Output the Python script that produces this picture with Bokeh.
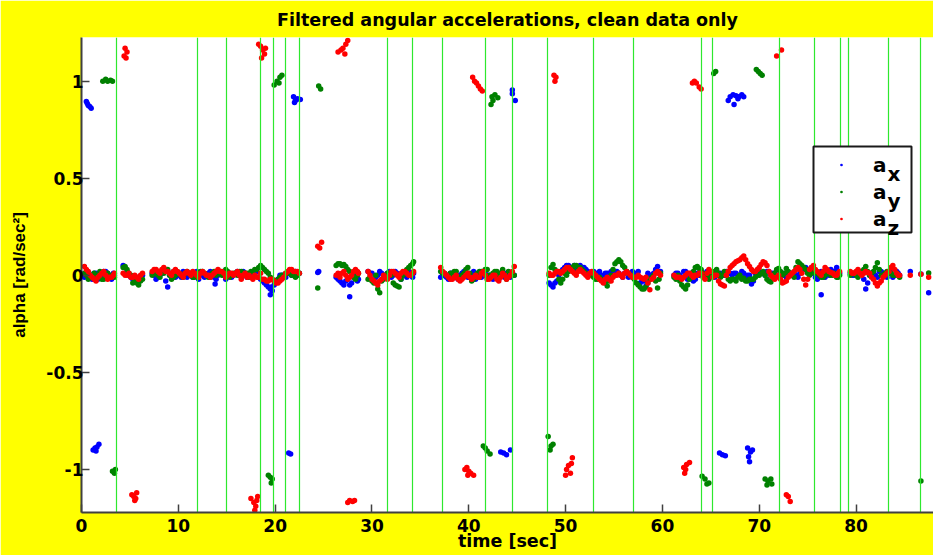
from bokeh.plotting import figure
from bokeh.models import (Range1d, Legend, LegendItem, Label, CustomJSTickFormatter,
                          FixedTicker, ColumnDataSource, BoxAnnotation)
from bokeh.embed import file_html
from bokeh.resources import INLINE

# ---------------- data ----------------
# sample times of the near-zero band (sec), first set
t_band = [
    0.3, 0.7, 1.1, 1.5, 1.9, 2.3, 2.7, 3.1, 3.4,
    4.3, 4.7, 5.1, 5.5, 5.9, 6.3,
    7.3, 7.7, 8.1, 8.5, 8.9, 9.3, 9.7, 10.1, 10.5, 10.9, 11.3, 11.7, 12.1, 12.5, 12.9, 13.3, 13.7, 14.1, 14.5, 14.9,
    15.3, 15.7, 16.1, 16.5, 16.9, 17.3, 17.7, 18.1, 18.5, 18.9, 19.3, 19.7, 20.1, 20.5, 20.9, 21.3, 21.7, 22.1, 22.5,
    26.3, 26.7, 27.1, 27.5, 27.9, 28.3, 28.6,
    29.6, 30.0, 30.4, 30.8, 31.2, 31.6, 32.0, 32.4, 32.8, 33.2, 33.6, 34.0, 34.3,
    37.1, 37.5, 37.9, 38.3, 38.7, 39.1, 39.5, 39.9, 40.3, 40.7, 41.1, 41.5, 41.9, 42.3, 42.7, 43.1, 43.5, 43.9, 44.3, 44.7,
    48.3, 48.7, 49.1, 49.5, 49.9, 50.3, 50.7, 51.1, 51.5, 51.9, 52.3, 52.7, 53.1, 53.5, 53.9,
    54.3, 54.7, 55.1, 55.5, 55.9, 56.3, 56.7, 57.1, 57.5, 57.9, 58.3, 58.7, 59.1, 59.5, 59.8,
    61.2, 61.6, 62.0, 62.4, 62.8, 63.2, 63.6, 64.0, 64.4, 64.8, 65.2, 65.6, 66.0, 66.4, 66.8,
    67.2, 67.6, 68.0, 68.4, 68.8, 69.2, 69.6, 70.0, 70.4, 70.8, 71.2, 71.6, 72.0, 72.4, 72.8,
    73.2, 73.6, 74.0, 74.4, 74.8, 75.2, 75.6, 76.0, 76.4, 76.8, 77.2, 77.6, 78.0, 78.3,
    79.4, 79.8, 80.2, 80.6, 81.0, 81.4, 81.8, 82.2, 82.6, 83.0, 83.4, 83.8, 84.2, 84.5,
]

ax_band = [
    -0.01, 0.00, -0.02, 0.01, -0.01, 0.02, 0.01, -0.02, 0.00,
    0.05, 0.02, -0.01, -0.015, -0.02, 0.00,
    0.01, -0.02, 0.00, 0.02, -0.06, 0.01, -0.01, 0.00, 0.02, -0.01, 0.01, 0.00, -0.02, 0.01, 0.00, 0.02, -0.01, 0.00, 0.01, -0.02,
    0.01, 0.00, 0.02, -0.01, 0.01, 0.00, -0.01, 0.02, -0.02, -0.04, -0.06, -0.08, -0.03, 0.00, -0.01, 0.01, 0.00, 0.02, 0.01,
    -0.01, -0.03, -0.05, -0.02, -0.04, 0.00, -0.02,
    0.02, 0.01, -0.01, 0.02, 0.00, 0.01, -0.01, 0.02, 0.00, 0.01, -0.01, 0.00, 0.01,
    -0.01, 0.00, -0.02, 0.01, -0.01, 0.00, 0.02, -0.01, 0.00, -0.02, 0.01, 0.00, -0.01, 0.00, 0.01, -0.02, 0.00, 0.01, -0.01, 0.00,
    -0.04, -0.06, -0.03, 0.02, 0.04, 0.05, 0.04, 0.03, 0.05, 0.04, 0.02, 0.01, 0.00, 0.02, -0.01,
    0.01, 0.02, 0.00, 0.01, -0.01, 0.02, 0.00, 0.01, 0.02, -0.03, -0.055, 0.00, 0.01, 0.045, 0.02,
    0.00, 0.01, -0.01, 0.02, 0.00, -0.03, 0.01, 0.02, -0.01, 0.00, 0.01, 0.00, 0.01, 0.00, 0.01,
    0.00, 0.01, 0.00, 0.01, 0.00, -0.045, 0.01, 0.02, 0.01, 0.02, 0.00, 0.01, 0.00, 0.01, -0.01,
    0.00, 0.01, -0.01, 0.02, 0.04, 0.03, 0.01, -0.02, 0.02, -0.01, 0.00, 0.02, 0.04, 0.01,
    0.01, 0.00, 0.02, 0.01, -0.07, 0.00, 0.01, -0.01, 0.02, 0.00, 0.01, -0.01, 0.02, 0.00,
]

ay_band = [
    0.01, -0.02, 0.00, -0.01, 0.02, -0.02, 0.01, 0.00, -0.01,
    0.04, 0.03, 0.00, -0.03, -0.05, -0.02,
    0.00, 0.02, -0.01, 0.01, 0.03, -0.02, 0.00, 0.01, -0.01, 0.02, 0.00, -0.01, 0.01, 0.02, 0.00, -0.01, 0.02, 0.01, 0.00, 0.03,
    -0.01, 0.01, 0.00, 0.02, 0.01, -0.01, 0.02, 0.03, 0.05, 0.03, 0.01, -0.02, -0.03, -0.01, 0.00, 0.01, 0.00, -0.01, 0.01,
    0.05, 0.06, 0.055, 0.03, 0.00, -0.02, 0.01,
    -0.02, -0.03, 0.00, -0.09, -0.02, 0.01, 0.00, -0.05, -0.06, 0.00, 0.03, 0.05, 0.07,
    0.02, 0.01, -0.01, 0.00, 0.02, -0.02, 0.01, 0.04, -0.03, 0.00, 0.02, 0.01, 0.03, -0.01, 0.02, 0.00, 0.03, -0.02, 0.01, 0.00,
    0.00, 0.055, 0.02, -0.04, 0.01, 0.02, 0.03, 0.05, 0.04, 0.02, 0.00, 0.01, -0.02, -0.01, -0.03,
    -0.055, 0.00, 0.06, 0.08, 0.05, 0.02, 0.00, -0.02, -0.05, -0.07, -0.06, -0.02, 0.00, -0.065, 0.01,
    -0.01, 0.00, -0.05, -0.07, -0.02, 0.02, 0.045, 0.03, 0.00, -0.02, 0.01, 0.03, -0.01, 0.02, -0.02,
    -0.02, -0.03, 0.00, -0.015, -0.03, -0.02, -0.01, 0.00, 0.02, -0.02, -0.035, 0.01, 0.035, 0.00, 0.035,
    0.01, -0.01, 0.07, 0.05, 0.03, 0.00, 0.02, 0.01, -0.01, 0.00, 0.01, 0.00, -0.01, 0.00,
    0.00, 0.01, -0.01, 0.02, 0.045, 0.00, 0.02, 0.065, 0.00, 0.01, 0.02, 0.00, 0.01, -0.01,
]

az_band = [
    0.045, 0.02, -0.01, -0.03, 0.00, 0.02, -0.02, -0.01, 0.01,
    0.01, 0.00, -0.01, 0.00, -0.02, 0.01,
    0.02, 0.03, 0.01, 0.04, 0.02, 0.00, 0.03, 0.01, -0.01, 0.02, 0.00, 0.01, -0.01, 0.02, 0.00, -0.01, 0.01, 0.03, 0.02, -0.01,
    0.01, 0.00, 0.02, -0.02, 0.01, 0.00, -0.02, -0.01, 0.01, -0.02, -0.03, -0.02, -0.04, -0.03, -0.01, 0.02, 0.03, 0.02, 0.01,
    0.00, -0.01, 0.02, -0.02, 0.00, 0.03, 0.01,
    0.02, -0.02, -0.04, -0.03, 0.00, -0.02, 0.02, 0.01, -0.01, 0.02, 0.01, 0.00, 0.02,
    0.04, 0.01, -0.01, -0.02, 0.00, -0.03, -0.01, 0.01, -0.02, 0.00, -0.01, 0.02, -0.02, -0.01, 0.00, -0.03, 0.01, -0.02, 0.00, 0.045,
    0.01, 0.00, 0.02, 0.01, 0.03, 0.04, 0.02, 0.00, 0.03, 0.01, -0.01, 0.02, 0.00, -0.02, -0.04,
    -0.01, -0.03, 0.00, 0.01, -0.01, 0.02, 0.00, -0.01, 0.00, -0.015, -0.01, -0.075, -0.01, 0.02, 0.00,
    0.00, -0.01, -0.02, 0.00, 0.01, -0.01, 0.00, 0.01, -0.02, 0.03, -0.01, 0.00, -0.045, -0.055, 0.02,
    0.05, 0.07, 0.08, 0.10, 0.06, 0.03, 0.02, 0.04, 0.07, 0.05, 0.00, -0.02, 0.00, -0.04, -0.03,
    0.00, 0.02, 0.04, 0.01, -0.05, 0.03, 0.05, 0.02, 0.00, 0.04, 0.02, 0.01, 0.00, 0.02,
    0.02, 0.01, 0.03, 0.00, 0.02, 0.01, -0.02, -0.055, -0.03, 0.00, 0.02, 0.05, 0.01, 0.00,
]

# second set of band samples (in between the first set)
t_band2 = [
    0.5, 0.9, 1.3, 1.7, 2.1, 2.5, 2.9, 3.3,
    4.5, 4.9, 5.3, 5.7, 6.1,
    7.5, 7.9, 8.3, 8.7, 9.1, 9.5, 9.9, 10.3, 10.7, 11.1, 11.5, 11.9, 12.3, 12.7, 13.1, 13.5, 13.9, 14.3, 14.7, 15.1,
    15.5, 15.9, 16.3, 16.7, 17.1, 17.5, 17.9, 18.3, 18.7, 19.1, 19.5, 19.9, 20.3, 20.7, 21.1, 21.5, 21.9, 22.3,
    26.5, 26.9, 27.3, 27.7, 28.1, 28.5,
    29.8, 30.2, 30.6, 31.0, 31.4, 31.8, 32.2, 32.6, 33.0, 33.4, 33.8, 34.2,
    37.3, 37.7, 38.1, 38.5, 38.9, 39.3, 39.7, 40.1, 40.5, 40.9, 41.3, 41.7, 42.1, 42.5, 42.9, 43.3, 43.7, 44.1, 44.5,
    48.5, 48.9, 49.3, 49.7, 50.1, 50.5, 50.9, 51.3, 51.7, 52.1, 52.5, 52.9, 53.3, 53.7, 54.1,
    54.5, 54.9, 55.3, 55.7, 56.1, 56.5, 56.9, 57.3, 57.7, 58.1, 58.5, 58.9, 59.3, 59.65,
    61.4, 61.8, 62.2, 62.6, 63.0, 63.4, 63.8, 64.2, 64.6, 65.0, 65.4, 65.8, 66.2, 66.6, 67.0,
    67.4, 67.8, 68.2, 68.6, 69.0, 69.4, 69.8, 70.2, 70.6, 71.0, 71.4, 71.8, 72.2, 72.6, 73.0,
    73.4, 73.8, 74.2, 74.6, 75.0, 75.4, 75.8, 76.2, 76.6, 77.0, 77.4, 77.8, 78.15,
    79.6, 80.0, 80.4, 80.8, 81.2, 81.6, 82.0, 82.4, 82.8, 83.2, 83.6, 84.0, 84.35,
]

ax_band2 = [
    0.00, -0.01, 0.01, -0.02, 0.00, 0.02, -0.01, 0.01,
    0.04, 0.00, -0.02, -0.01, -0.01,
    0.00, -0.01, 0.01, -0.03, 0.00, 0.02, 0.00, -0.01, 0.01, 0.00, -0.01, 0.02, 0.00, -0.01, 0.01, 0.00, -0.02, 0.01, 0.00, 0.01,
    -0.01, 0.01, 0.00, 0.02, -0.01, 0.01, 0.00, -0.01, -0.03, -0.05, -0.07, -0.05, -0.02, 0.00, -0.01, 0.01, 0.02, 0.00,
    -0.02, -0.04, -0.03, -0.05, -0.01, -0.03,
    0.01, -0.02, 0.00, 0.01, -0.01, 0.02, 0.00, 0.01, -0.02, 0.00, 0.02, -0.01,
    0.00, -0.01, 0.01, 0.00, -0.02, 0.01, 0.00, -0.01, 0.02, 0.00, -0.01, 0.01, 0.00, -0.02, 0.00, 0.01, -0.01, 0.00, 0.01,
    -0.05, -0.04, 0.00, 0.03, 0.05, 0.04, 0.05, 0.03, 0.04, 0.03, 0.01, 0.02, 0.01, 0.00, 0.01,
    0.00, 0.01, 0.02, 0.00, 0.01, -0.01, 0.02, 0.00, -0.04, -0.03, 0.01, 0.00, 0.03, 0.01,
    0.01, 0.00, 0.02, -0.02, 0.01, -0.02, 0.00, 0.01, 0.02, 0.00, -0.01, 0.01, 0.00, 0.02, 0.01,
    0.01, 0.00, 0.02, -0.01, 0.00, -0.03, 0.02, 0.01, 0.00, 0.02, 0.01, 0.00, 0.01, 0.00, 0.00,
    0.01, 0.00, 0.01, 0.03, 0.02, 0.04, -0.01, 0.01, 0.00, 0.01, 0.03, 0.02, 0.00,
    0.00, 0.01, 0.02, -0.02, -0.04, 0.01, 0.00, 0.02, 0.01, -0.01, 0.02, 0.00, 0.01,
]

ay_band2 = [
    0.00, -0.01, 0.01, 0.00, -0.02, 0.01, -0.01, 0.00,
    0.045, 0.01, -0.04, -0.04, -0.03,
    0.01, 0.00, 0.02, 0.02, 0.00, -0.01, 0.02, 0.00, 0.01, 0.01, -0.01, 0.00, 0.02, 0.01, -0.01, 0.01, 0.00, 0.02, 0.01, 0.02,
    0.00, 0.01, 0.02, 0.00, 0.01, 0.02, 0.03, 0.04, 0.04, 0.02, -0.01, -0.03, -0.02, 0.00, 0.01, 0.02, 0.01, 0.00,
    0.06, 0.05, 0.045, 0.02, -0.01, 0.00,
    -0.01, -0.04, -0.07, -0.03, 0.00, 0.01, -0.04, -0.055, -0.02, 0.02, 0.04, 0.06,
    0.01, 0.00, 0.01, 0.02, -0.01, 0.00, 0.03, 0.01, -0.02, 0.01, 0.02, 0.03, 0.00, 0.01, 0.02, 0.01, 0.00, 0.02, 0.01,
    0.04, 0.03, -0.02, -0.02, 0.00, 0.04, 0.05, 0.03, 0.03, 0.01, 0.00, -0.01, -0.02, -0.02, -0.04,
    -0.03, 0.03, 0.07, 0.07, 0.04, 0.01, -0.01, -0.04, -0.06, -0.07, -0.04, -0.01, -0.03, -0.02,
    -0.02, -0.03, -0.06, -0.05, 0.00, 0.04, 0.035, 0.01, -0.01, 0.00, 0.02, 0.01, 0.00, 0.00, -0.03,
    -0.02, -0.01, -0.02, -0.03, -0.02, -0.02, 0.00, 0.01, 0.00, -0.03, -0.01, 0.03, 0.02, 0.01, 0.02,
    0.00, 0.04, 0.06, 0.04, 0.01, 0.01, 0.02, 0.00, -0.01, 0.01, 0.00, 0.01, -0.01,
    0.01, 0.00, 0.01, 0.03, 0.02, 0.01, 0.04, 0.03, 0.00, 0.02, 0.01, 0.00, 0.00,
]

az_band2 = [
    0.03, 0.00, -0.02, -0.01, 0.01, 0.00, -0.01, 0.00,
    0.00, 0.01, -0.01, -0.01, 0.00,
    0.03, 0.02, 0.03, 0.02, 0.01, 0.02, 0.02, 0.00, 0.01, 0.01, 0.02, 0.00, 0.01, 0.01, 0.00, 0.00, 0.02, 0.02, 0.01, 0.00,
    0.01, 0.01, 0.00, 0.00, -0.01, -0.01, 0.00, -0.01, -0.02, -0.03, -0.02, -0.03, -0.04, -0.02, 0.01, 0.03, 0.02, 0.02,
    0.01, 0.01, 0.00, -0.01, 0.02, 0.02,
    0.00, -0.03, -0.05, -0.02, -0.01, 0.00, 0.02, 0.00, 0.01, 0.02, 0.00, 0.01,
    0.02, 0.00, -0.02, -0.01, -0.02, -0.02, 0.00, -0.01, -0.01, -0.01, 0.01, 0.00, -0.02, 0.00, -0.02, -0.01, 0.00, -0.01, 0.02,
    0.00, 0.01, 0.02, 0.02, 0.04, 0.03, 0.01, 0.02, 0.02, 0.00, 0.01, 0.01, -0.01, -0.03, -0.02,
    -0.02, -0.01, 0.00, 0.00, 0.01, 0.01, -0.01, -0.01, -0.01, -0.02, -0.04, -0.02, 0.01, 0.01,
    -0.01, -0.01, -0.01, 0.01, 0.00, 0.00, 0.01, -0.01, 0.01, 0.02, 0.00, -0.03, -0.05, 0.00, 0.04,
    0.06, 0.075, 0.09, 0.08, 0.045, 0.02, 0.03, 0.055, 0.065, 0.02, -0.01, -0.01, -0.02, -0.035, -0.01,
    0.01, 0.03, 0.03, -0.02, -0.02, 0.04, 0.03, 0.01, 0.02, 0.03, 0.015, 0.00, 0.01,
    0.01, 0.02, 0.01, 0.01, 0.015, -0.01, -0.04, -0.04, -0.01, 0.01, 0.04, 0.03, 0.00,
]

# isolated samples (time, value) of each series
ax_extra = [
    (0.5, 0.895), (0.6, 0.885), (0.7, 0.875), (0.85, 0.87), (1.0, 0.86),
    (21.9, 0.92), (22.0, 0.89), (22.1, 0.90), (22.3, 0.91), (22.6, 0.905),
    (44.5, 0.955), (44.5, 0.935), (44.8, 0.90),
    (66.8, 0.90), (67.0, 0.92), (67.3, 0.93), (67.4, 0.88), (67.6, 0.925), (67.8, 0.91),
    (67.9, 0.92), (68.2, 0.93), (68.4, 0.92),
    (1.2, -0.90), (1.4, -0.89), (1.5, -0.905), (1.6, -0.885), (1.8, -0.87),
    (21.4, -0.915), (21.6, -0.92),
    (43.3, -0.91), (43.6, -0.915), (43.9, -0.925), (44.3, -0.90),
    (65.9, -0.915), (66.2, -0.925), (66.5, -0.93),
    (68.8, -0.89), (68.9, -0.935), (69.0, -0.96), (69.1, -0.91), (69.3, -0.90),
    (13.8, -0.045), (19.5, -0.10), (19.6, -0.06), (24.4, 0.015), (24.5, 0.02),
    (27.7, -0.11), (76.4, -0.10), (85.6, 0.02), (86.7, 0.007), (87.5, -0.09),
]

ay_extra = [
    (2.2, 1.00), (2.5, 1.01), (2.7, 1.00), (3.0, 1.005), (3.2, 1.00),
    (19.9, 0.98), (20.2, 1.00), (20.4, 0.99), (20.5, 1.02), (20.7, 1.03),
    (24.5, 0.975), (24.7, 0.96),
    (42.3, 0.88), (42.4, 0.92), (42.5, 0.90), (42.7, 0.93), (43.0, 0.915),
    (65.3, 1.04), (65.5, 1.05),
    (69.7, 1.06), (69.9, 1.05), (70.1, 1.04), (70.3, 1.03),
    (3.2, -1.01), (3.4, -1.02), (3.5, -1.00),
    (19.3, -1.03), (19.5, -1.04), (19.6, -1.07), (19.7, -1.05),
    (41.5, -0.88), (41.7, -0.89), (41.9, -0.905), (42.2, -0.92),
    (48.2, -0.83), (48.4, -0.90), (48.5, -0.88), (48.7, -0.87),
    (64.1, -1.035), (64.4, -1.05), (64.6, -1.075), (64.8, -1.07),
    (70.6, -1.05), (70.8, -1.08), (70.9, -1.06), (71.2, -1.05), (71.3, -1.075),
    (86.7, -1.06), (24.4, -0.065), (87.5, 0.012),
]

az_extra = [
    (4.4, 1.13), (4.5, 1.17), (4.6, 1.12), (4.7, 1.15),
    (18.3, 1.19), (18.5, 1.18), (18.6, 1.12), (18.7, 1.16), (18.9, 1.14), (19.0, 1.17),
    (24.4, 0.15), (24.6, 0.14), (24.8, 0.17),
    (26.5, 1.15), (26.8, 1.16), (27.0, 1.17), (27.2, 1.14), (27.3, 1.19), (27.5, 1.21),
    (40.4, 1.02), (40.6, 1.00), (40.8, 0.99), (41.0, 0.975), (41.2, 0.96), (41.4, 0.95),
    (48.8, 1.03), (48.9, 1.00), (49.0, 1.02),
    (63.1, 0.99), (63.3, 1.00), (63.5, 0.99), (63.8, 0.97), (64.0, 0.96),
    (71.8, 1.13), (72.3, 1.16),
    (5.2, -1.13), (5.4, -1.14), (5.5, -1.16), (5.6, -1.15), (5.7, -1.12),
    (17.5, -1.15), (17.8, -1.17), (17.9, -1.21), (18.0, -1.19), (18.1, -1.16), (18.2, -1.14),
    (27.5, -1.17), (27.7, -1.16), (28.0, -1.165), (28.2, -1.16),
    (39.6, -1.00), (39.8, -0.99), (39.9, -1.03), (40.0, -1.01), (40.2, -1.02), (40.5, -1.03),
    (50.0, -1.03), (50.1, -1.00), (50.3, -0.98), (50.5, -1.02), (50.6, -0.97), (50.7, -0.94),
    (62.2, -0.99), (62.3, -1.02), (62.4, -1.00), (62.5, -0.975), (62.8, -0.965),
    (72.8, -1.13), (73.0, -1.14), (73.2, -1.165),
    (85.6, 0.00), (86.7, 0.005), (87.5, -0.01),
]

# times of the marked events (vertical green lines)
event_times = [3.57, 11.99, 14.98, 18.5, 19.85, 21.05, 22.5, 31.6, 34.2, 37.3, 41.7, 44.5,
               48.1, 52.9, 57.0, 64.0, 65.15, 72.06, 75.7, 78.4, 79.2, 83.35, 86.7]

x_ticks = [0, 10, 20, 30, 40, 50, 60, 70, 80]
y_ticks = [-1, -0.5, 0, 0.5, 1]
series_names = ["x", "y", "z"]
series_colors = ["#0000ff", "#008000", "#ff0000"]

assert len(t_band) == len(ax_band) == len(ay_band) == len(az_band)
assert len(t_band2) == len(ax_band2) == len(ay_band2) == len(az_band2)

# ---------------- figure ----------------
FONT = "DejaVu Sans"
p = figure(width=933, height=555, output_backend="svg", toolbar_location=None,
           x_range=Range1d(0, 88), y_range=Range1d(-1.222, 1.225),
           min_border_left=81, min_border_right=0, min_border_top=36, min_border_bottom=43,
           background_fill_color="white", border_fill_color="#ffff00",
           title="Filtered angular accelerations, clean data only")
p.outline_line_color = None
p.grid.visible = False

p.title.align = "center"
p.title.text_font = FONT
p.title.text_font_size = "17.5px"
p.title.text_font_style = "bold"
p.title.text_color = "black"
p.title.standoff = 15

for ax in (p.xaxis[0], p.yaxis[0]):
    ax.axis_line_color = "#404040"
    ax.axis_line_width = 2
    ax.major_tick_line_color = "#404040"
    ax.major_tick_line_width = 1.5
    ax.major_tick_in = 8
    ax.major_tick_out = 0
    ax.minor_tick_line_color = None
    ax.major_label_text_font = FONT
    ax.major_label_text_font_size = "17px"
    ax.major_label_text_font_style = "bold"
    ax.major_label_text_color = "black"
    ax.axis_label_text_font_size = "17.5px"
    ax.axis_label_text_font_style = "bold"
    ax.axis_label_text_color = "black"
    ax.formatter = CustomJSTickFormatter(code="return String(Math.round(tick*10)/10)")

p.xaxis.ticker = FixedTicker(ticks=x_ticks)
p.yaxis.ticker = FixedTicker(ticks=y_ticks)
p.xaxis.axis_label = "time [sec]"
p.yaxis.axis_label = "alpha [rad/sec\u00b2]"
p.xaxis.axis_label_text_font = FONT
p.yaxis.axis_label_text_font = "Liberation Sans"
p.yaxis.axis_label_text_font_size = "17px"
p.xaxis.major_label_standoff = 6
p.yaxis.major_label_standoff = -2
p.xaxis.axis_label_standoff = -4
p.yaxis.axis_label_standoff = 14

bands = (ax_band, ay_band, az_band)
bands2 = (ax_band2, ay_band2, az_band2)
extras = (ax_extra, ay_extra, az_extra)
legend_renderers = []
for band, band2, extra, color in zip(bands, bands2, extras, series_colors):
    xs = list(t_band) + list(t_band2) + [e[0] for e in extra]
    ys = list(band) + list(band2) + [e[1] for e in extra]
    src = ColumnDataSource(data=dict(t=xs, v=ys))
    p.scatter("t", "v", source=src, size=5.5, marker="circle",
              fill_color=color, line_color=None)
    # tiny copy of the first sample, used only for the (small) legend dot
    legend_renderers.append(p.scatter(x=xs[:1], y=ys[:1], size=3, marker="dot",
                                      line_color=color, fill_color=color))

p.vspan(x=event_times, line_color="#2ee82e", line_width=1.2)

# legend: white box, transparent bokeh legend (dots + "a"), subscripts as labels
FRAME_LEFT, FRAME_BOTTOM = 81, 512
LEG_LEFT, LEG_RIGHT, LEG_TOP, LEG_BOTTOM = 813, 911, 146, 232
PAD = 2
ROW_H = (LEG_BOTTOM - LEG_TOP - 2 * PAD) / 3
p.add_layout(BoxAnnotation(left=LEG_LEFT - FRAME_LEFT, right=LEG_RIGHT - FRAME_LEFT,
                           top=FRAME_BOTTOM - LEG_TOP, bottom=FRAME_BOTTOM - LEG_BOTTOM,
                           left_units="screen", right_units="screen",
                           top_units="screen", bottom_units="screen",
                           fill_color="white", fill_alpha=1.0,
                           line_color="#1a1a1a", line_width=2, line_alpha=1.0))
legend = Legend(
    items=[LegendItem(label="a", renderers=[r]) for r in legend_renderers],
    location=(LEG_LEFT - FRAME_LEFT, FRAME_BOTTOM - LEG_BOTTOM),
    padding=PAD, spacing=0, margin=0,
    glyph_height=int(ROW_H), glyph_width=56, label_height=int(ROW_H), label_width=30,
    label_standoff=4,
    border_line_color=None, background_fill_alpha=0.0,
    label_text_font=FONT, label_text_font_size="20px", label_text_font_style="bold",
    label_text_color="black",
)
p.add_layout(legend)

for i, name in enumerate(series_names):
    row_center = LEG_TOP + PAD + ROW_H * (i + 0.5)
    p.add_layout(Label(x=887 - FRAME_LEFT, y=FRAME_BOTTOM - (row_center + 11.5),
                       x_units="screen", y_units="screen", text=name,
                       text_font=FONT, text_font_size="20px", text_font_style="bold",
                       text_color="black", text_baseline="alphabetic"))

open("out.html", "w").write(file_html(p, INLINE))
